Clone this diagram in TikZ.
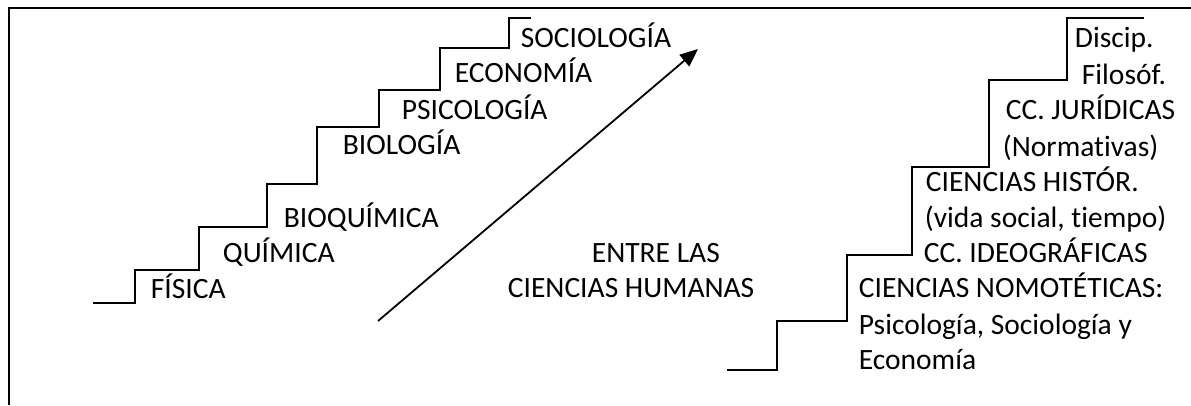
\documentclass[tikz,border=0pt]{standalone}
\usepackage{fontspec}
\setmainfont{Carlito}[Ligatures={NoCommon}]
\usepackage{tikz}
\usetikzlibrary{%
    arrows.meta,
    positioning,
    calc
}

\begin{document}
\begin{tikzpicture}[x=1pt, y=-1pt,
    lbl/.style={anchor=base west, inner sep=0pt, font=\fontsize{29.5}{36}\selectfont},
    stair/.style={line width=1.8pt},
    every path/.style={line width=1.8pt}]
      \useasboundingbox (0,0) rectangle (1191,405);

      % frame
      \draw (1191,8) -- (9,8) -- (9,405);

      % left staircase
      \draw[stair] (93,303) -- (135,303) -- (135,270) -- (199,270) -- (199,227) -- (267,227)
        -- (267,184) -- (317,184) -- (317,127) -- (379,127) -- (379,90) -- (440,90)
        -- (440,48) -- (509,48) -- (509,18) -- (531,18);

      \node[lbl] (fisica) at (150,298) {FÍSICA};
      \node[lbl] (quimica) at (222,262) {QUÍMICA};
      \node[lbl] (bioquimica) at (283,227) {BIOQUÍMICA};
      \node[lbl] (biologia) at (342,154) {BIOLOGÍA};
      \node[lbl] (psicologia) at (401,119) {PSICOLOGÍA};
      \node[lbl] (economia) at (454,82) {ECONOMÍA};
      \node[lbl] (sociologia) at (520,47) {SOCIOLOGÍA};

      % arrow
      \coordinate (up_from) at (378,321);
      \coordinate (up_to) at (698,49);
      \draw[-{Triangle[length=18pt,width=15pt]}] (up_from) -- (up_to);

      \node[lbl] (entre) at (591,262) {ENTRE LAS};
      \node[lbl] (humanas) at (507,297) {CIENCIAS HUMANAS};

      % right staircase
      \draw[stair] (727,370) -- (777,370) -- (777,321) -- (847,321) -- (847,255) -- (912,255)
        -- (912,167) -- (989,167) -- (989,80) -- (1067,80) -- (1067,18) -- (1144,18);

      \node[lbl] (discip) at (1074,47) {Discip.};
      \node[lbl] (filosof) at (1081,84) {Filosóf.};
      \node[lbl] (juridicas) at (1005,119) {CC. JURÍDICAS};
      \node[lbl] (normativas) at (1002,156) {(Normativas)};
      \node[lbl] (historicas) at (925,191) {CIENCIAS HISTÓR.};
      \node[lbl] (vida) at (924,227) {(vida social, tiempo)};
      \node[lbl] (ideograficas) at (923,262) {CC. IDEOGRÁFICAS};
      \node[lbl] (nomoteticas) at (858,297) {CIENCIAS NOMOTÉTICAS:};
      \node[lbl] (psico_socio) at (858,334) {Psicología, Sociología y};
      \node[lbl] (eco) at (858,369) {Economía};
    \end{tikzpicture}
\end{document}
